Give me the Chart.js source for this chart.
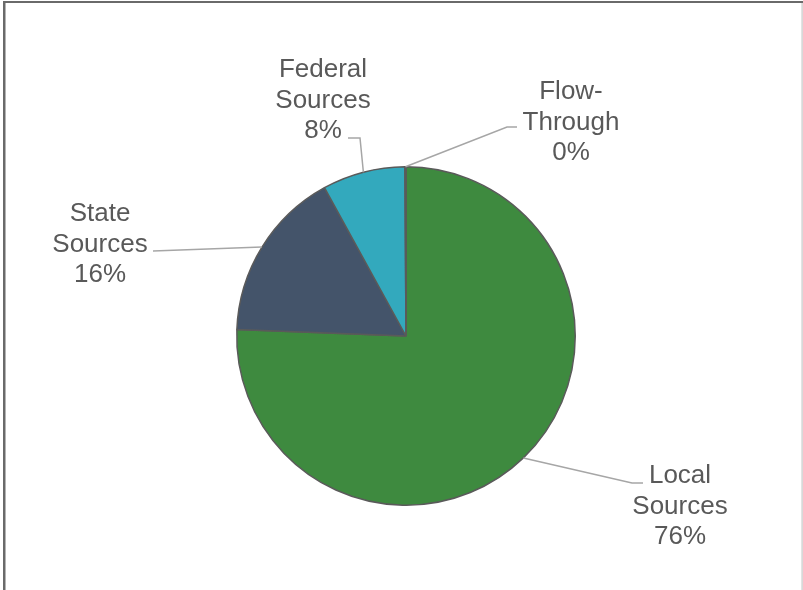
<!DOCTYPE html>
<html>
<head>
<meta charset="utf-8">
<script src="https://cdn.jsdelivr.net/npm/chart.js@4/dist/chart.umd.min.js"></script>
<style>
  html, body { margin: 0; padding: 0; background: #ffffff; }
  #wrap { position: relative; width: 803px; height: 590px; overflow: hidden; }
  canvas { position: absolute; left: 0; top: 0; }
</style>
</head>
<body>
<div id="wrap"><canvas id="c" width="803" height="590"></canvas></div>
<script>
// ---- data ----
const categories = [["Local", "Sources"], ["State", "Sources"], ["Federal", "Sources"], ["Flow-", "Through"]];
const shares = [75.6, 16.4, 7.9, 0.1];
const sliceColors = ["#3E8A3F", "#44546A", "#33A9BD", "#E07B2A"];

// ---- label layout (text centre of first line, leader path points toward text) ----
const labelLayout = [
  { x: 680, y: 476, path: [[632, 483], [643, 483]] },
  { x: 100, y: 214, path: [[153, 251]] },
  { x: 323, y: 70,  path: [[360, 138], [348, 138]] },
  { x: 571, y: 92,  path: [[507, 127], [517, 127]] }
];

const labelPlugin = {
  id: 'pieLabels',
  afterDatasetsDraw(chart) {
    const ctx = chart.ctx;
    const meta = chart.getDatasetMeta(0);
    const total = shares.reduce((a, b) => a + b, 0);
    ctx.save();
    meta.data.forEach((arc, i) => {
      const p = arc.getProps(['x', 'y', 'startAngle', 'endAngle', 'outerRadius'], true);
      const mid = (p.startAngle + p.endAngle) / 2;
      const ax = p.x + Math.cos(mid) * p.outerRadius;
      const ay = p.y + Math.sin(mid) * p.outerRadius;
      const lay = labelLayout[i];
      // leader line
      ctx.beginPath();
      ctx.strokeStyle = '#A6A6A6';
      ctx.lineWidth = 1.5;
      ctx.moveTo(ax, ay);
      lay.path.forEach(pt => ctx.lineTo(pt[0], pt[1]));
      ctx.stroke();
      // text
      const lines = categories[i].concat([Math.round(shares[i] / total * 100) + '%']);
      ctx.fillStyle = '#595959';
      ctx.font = '26px "Liberation Sans", Arial, sans-serif';
      ctx.textAlign = 'center';
      ctx.textBaseline = 'middle';
      lines.forEach((t, k) => ctx.fillText(t, lay.x, lay.y + k * 30.5));
    });
    ctx.restore();
  }
};

const framePlugin = {
  id: 'frame',
  afterDraw(chart) {
    const ctx = chart.ctx;
    ctx.save();
    ctx.fillStyle = '#6A6A6A';
    ctx.fillRect(3, 1, 803, 2);
    ctx.fillRect(3, 1, 2.5, 590);
    ctx.fillStyle = '#C8C8C8';
    ctx.fillRect(801.5, 3, 1.2, 590);
    ctx.restore();
  }
};

new Chart(document.getElementById('c'), {
  type: 'pie',
  data: {
    labels: categories.map(c => c.join(' ')),
    datasets: [{
      data: shares,
      backgroundColor: sliceColors,
      borderColor: '#5A5A5A',
      borderWidth: 1.5
    }]
  },
  options: {
    responsive: false,
    devicePixelRatio: 1,
    animation: false,
    layout: { padding: { left: 236, right: 227, top: 166, bottom: 84 } },
    plugins: {
      legend: { display: false },
      tooltip: { enabled: false },
      title: { display: false }
    }
  },
  plugins: [labelPlugin, framePlugin]
});
</script>
</body>
</html>
